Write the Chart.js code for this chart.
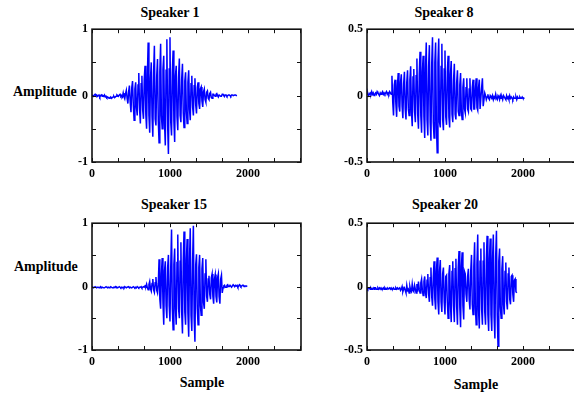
<!DOCTYPE html>
<html>
<head>
<meta charset="utf-8">
<script src="https://cdn.jsdelivr.net/npm/chart.js@4.4.0/dist/chart.umd.min.js"></script>
<style>
  html, body { margin: 0; padding: 0; background: #fff; overflow: hidden; }
  #page { position: relative; width: 574px; height: 398px; overflow: hidden;
          font-family: 'Liberation Serif', 'Times New Roman', serif; font-weight: bold; color: #000; }
  .panel { position: absolute; }
  .txt { position: absolute; font-size: 14px; line-height: 14px; white-space: nowrap; }
  .ctr { transform: translateX(-50%); }
</style>
</head>
<body>
<div id="page">
  <div class="txt ctr" style="left:170px;top:6px">Speaker 1</div>
  <div class="txt ctr" style="left:444px;top:6px">Speaker 8</div>
  <div class="txt ctr" style="left:174px;top:198px">Speaker 15</div>
  <div class="txt ctr" style="left:445px;top:198px">Speaker 20</div>
  <div class="txt" style="left:13px;top:85px">Amplitude</div>
  <div class="txt" style="left:14px;top:260px">Amplitude</div>
  <div class="txt ctr" style="left:202px;top:376px">Sample</div>
  <div class="txt ctr" style="left:476px;top:378px">Sample</div>

  <div class="panel" style="left:52px;top:18px;width:260px;height:170px"><canvas id="c1"></canvas></div>
  <div class="panel" style="left:327px;top:18px;width:260px;height:170px"><canvas id="c8"></canvas></div>
  <div class="panel" style="left:52px;top:212px;width:260px;height:164px"><canvas id="c15"></canvas></div>
  <div class="panel" style="left:327px;top:212px;width:260px;height:164px"><canvas id="c20"></canvas></div>
</div>

<script>
    // waveform values read every STEP samples off the plots
    const STEP = 10;
    const xTicks = [0, 333, 667, 1000, 1333, 1667, 2000, 2333, 2667];
    const xLabeled = [0, 1000, 2000];

    const spk1 = [
        0.01, 0, -0.01, 0.01, 0.02, 0, 0.01, -0.01, 0, 0.01,
        -0.02, 0, 0.01, -0.01, 0, -0.01, 0.01, -0.02, -0.01, -0.03,
        -0.02, -0.03, -0.04, -0.03, -0.02, -0.04, -0.03, -0.02, -0.01, -0.03,
        -0.02, -0.01, 0.01, 0, -0.01, 0.01, 0.02, -0.01, 0, -0.02,
        0.04, -0.02, -0.05, 0.03, 0.08, -0.04, -0.12, 0.06, 0.15, -0.1,
        -0.25, 0.12, 0.22, -0.15, -0.37, 0.1, 0.2, -0.18, -0.3, 0.16,
        0.34, -0.2, -0.42, 0.18, 0.3, -0.22, -0.35, 0.25, 0.45, -0.28,
        -0.5, 0.3, 0.8, -0.3, -0.56, 0.26, 0.5, -0.32, -0.62, 0.35,
        0.75, -0.35, -0.45, 0.3, 0.55, -0.38, -0.71, 0.36, 0.78, -0.3,
        -0.5, 0.4, 0.6, -0.42, -0.75, 0.38, 0.85, -0.45, -0.88, 0.4,
        0.88, -0.4, -0.6, 0.35, 0.68, -0.38, -0.7, 0.3, 0.45, -0.32,
        -0.52, 0.28, 0.56, -0.3, -0.4, 0.25, 0.48, -0.26, -0.48, 0.22,
        0.35, -0.24, -0.42, 0.2, 0.38, -0.2, -0.37, 0.18, 0.3, -0.17,
        -0.3, 0.15, 0.26, -0.14, -0.27, 0.12, 0.2, -0.12, -0.2, 0.1,
        0.13, -0.08, -0.17, 0.06, 0.1, -0.06, -0.1, 0.05, 0.07, -0.04,
        -0.06, 0.03, 0.05, -0.03, -0.04, 0.02, 0.02, 0, -0.01, 0.02,
        0.03, 0, -0.02, 0.01, 0.01, -0.01, -0.01, 0.02, 0.02, 0,
        -0.01, 0.01, 0.01, -0.01, 0, 0.01, 0.01, 0, -0.01, 0.01,
        0.01, 0, 0, 0.01, 0.01, 0, 0
    ];

    const spk8 = [
        0.01, 0.02, 0, 0.01, 0.02, 0.01, 0.03, 0.01, 0.02, 0,
        0.01, 0.02, 0.01, 0.03, 0.02, 0.01, 0, 0.02, 0.01, 0.02,
        0.03, 0.01, 0.02, 0.01, 0.02, 0.03, 0.01, 0.02, 0.01, 0.03,
        0.02, 0.01,
        0.15, -0.05, -0.15, 0.08, 0.12, -0.06, -0.16, 0.07, 0.17, -0.08,
        -0.12, 0.1, 0.16, -0.08, -0.17, 0.09, 0.18, -0.1,
        -0.18, 0.1, 0.19, -0.1, -0.15, 0.12, 0.22, -0.12, -0.23, 0.14,
        0.2, -0.12, -0.2, 0.15, 0.28, -0.14, -0.25, 0.16, 0.33, -0.15,
        -0.28, 0.18, 0.3, -0.16, -0.32, 0.2, 0.4, -0.18, -0.3, 0.22,
        0.38, -0.2, -0.34, 0.24, 0.44, -0.2, -0.32, 0.25, 0.4, -0.22,
        -0.43, 0.25, 0.43, -0.2, -0.24, 0.22, 0.39, -0.18, -0.26, 0.2,
        0.34, -0.16, -0.22, 0.18, 0.3, -0.16, -0.24, 0.16, 0.26, -0.14,
        -0.2, 0.12, 0.24, -0.14, -0.18, 0.1, 0.19, -0.12, -0.15, 0.08,
        0.17, -0.12, -0.18, 0.06, 0.13, -0.1, -0.13, 0.06, 0.13, -0.1,
        -0.12, 0.05, 0.13, -0.1, -0.11, 0.06, 0.12, -0.1, -0.1, 0.05,
        0.13, -0.09, -0.11, 0.06, 0.12, -0.1, -0.1, 0.06, 0.13, -0.08,
        -0.08, 0.02, 0, -0.03, -0.01, 0.01, -0.02, -0.03, 0, -0.01,
        -0.02, 0, -0.03, -0.01, -0.02, 0.01, -0.02, -0.03, 0, -0.01,
        -0.03, 0, -0.02, -0.01, -0.03, 0, -0.01, -0.02, -0.03, 0,
        -0.02, -0.01, -0.03, 0, -0.02, -0.01, -0.02, -0.03, -0.01, -0.02,
        -0.02, -0.01, -0.03, -0.01, -0.02, -0.02, -0.01, -0.02, -0.02, -0.01,
        -0.02, -0.02, -0.02
    ];

    const spk15 = [
        0, -0.01, -0.02, -0.01, 0, -0.01, -0.02, -0.01, -0.01, -0.02,
        -0.01, 0, -0.02, -0.01, -0.01, -0.02, -0.02, -0.01, 0, -0.01,
        -0.02, -0.01, -0.02, -0.01, 0, -0.01, -0.02, -0.02, -0.01, -0.01,
        0, -0.02, -0.01, -0.02, -0.01, 0, -0.01, -0.02, -0.01, -0.02,
        -0.01, -0.02, 0, -0.01, -0.02, -0.01, -0.01, 0, -0.02, -0.01,
        -0.01, -0.02, -0.01, 0, -0.01, -0.02, -0.01, -0.02, 0, -0.01,
        -0.02, -0.01, -0.01, 0, -0.02, -0.01, 0, -0.01, 0.01, 0,
        0.04, -0.02, -0.05, 0.03, 0.08, -0.03, -0.07, 0.05, 0.12, -0.05,
        -0.09, 0.06, 0.15, -0.06, -0.1, 0.05,
        0.43, -0.2, -0.35, 0.2, 0.45, -0.25, -0.6, 0.25, 0.4, -0.3,
        -0.5, 0.3, 0.5, -0.3, -0.55, 0.32, 0.9, -0.35, -0.68, 0.35,
        0.6, -0.35, -0.6, 0.38, 0.82, -0.35, -0.5, 0.4, 0.7, -0.4,
        -0.74, 0.4, 0.87, -0.4, -0.6, 0.42, 0.75, -0.42, -0.79, 0.4,
        0.92, -0.45, -0.7, 0.4, 0.96, -0.5, -0.87, 0.35, 0.51, -0.35,
        -0.6, 0.3, 0.5, -0.3, -0.45, 0.28, 0.45, -0.25, -0.35, 0.2,
        0.43, -0.15, -0.24, 0.12, 0.17, -0.12, -0.2, 0.14, 0.2, -0.15,
        -0.27, 0.12, 0.19, -0.15, -0.25, 0.14, 0.2, -0.16, -0.27, 0.12,
        0.18, -0.1,
        -0.02, 0.01, 0.02, -0.01, -0.01, 0.02, 0.03, 0, 0, 0.02,
        0.02, -0.01, 0.01, 0.03, 0.03, 0, 0.02, 0.01, 0.02, -0.01,
        0, 0.03, 0.02, 0, 0.01, 0.02, 0.02, 0, 0.01, 0.01,
        0.01, 0, 0
    ];

    const spk20 = [
        -0.01, -0.02, -0.01, -0.01, -0.02, -0.01, -0.02, -0.02, -0.01, -0.02,
        -0.01, -0.01, -0.02, -0.02, -0.01, -0.02, -0.01, -0.02, -0.01, -0.02,
        -0.02, -0.01, -0.02, -0.01, -0.02, -0.02, -0.01, -0.02, -0.02, -0.01,
        -0.02, -0.01, -0.02, -0.02, -0.01, -0.02, -0.02, -0.01, -0.02, -0.01,
        -0.02, -0.02,
        -0.01, -0.03, -0.02, 0, -0.04, -0.02, -0.01, -0.03, -0.05, 0.01,
        -0.03, -0.02, -0.05, 0, -0.03, -0.04, 0.02, -0.03, -0.04, 0.01,
        -0.02, -0.05, 0.02, -0.04,
        0.04, -0.02, -0.05, 0.03, 0.06, -0.03, -0.07, 0.04, 0.08, -0.05,
        -0.09, 0.05, 0.1, -0.06, -0.12, 0.07, 0.15, -0.08, -0.15, 0.08,
        0.2, -0.1, -0.18, 0.12, 0.23, -0.12, -0.22, 0.12, 0.21, -0.12,
        -0.2, 0.1, 0.15, -0.12, -0.22, 0.08, 0.09, -0.12, -0.25, 0.1,
        0.17, -0.14, -0.28, 0.12, 0.2, -0.15, -0.28, 0.14, 0.22, -0.16,
        -0.3, 0.15, 0.28, -0.16, -0.32, 0.16, 0.27, -0.15, -0.26, 0.12,
        0.1, -0.06, -0.12, 0.08, 0.14, -0.1, -0.18, 0.12, 0.25, -0.14,
        -0.22, 0.16, 0.35, -0.16, -0.3, 0.18, 0.41, -0.18, -0.33, 0.2,
        0.3, -0.18, -0.3, 0.2, 0.35, -0.2, -0.3, 0.2, 0.4, -0.22,
        -0.35, 0.22, 0.38, -0.22, -0.35, 0.22, 0.41, -0.24, -0.41, 0.24,
        0.44, -0.22, -0.47, 0.2, 0.3, -0.16, -0.25, 0.14, 0.24, -0.14,
        -0.22, 0.12, 0.19, -0.12, -0.18, 0.1, 0.15, -0.1, -0.14, 0.08,
        0.09, -0.06, -0.12, 0.05, 0.06, -0.04, -0.05
    ];

    const yTicksWide = [-1, -0.5, 0, 0.5, 1];
    const yLabeledWide = [-1, 0, 1];
    const yTicksNarrow = [-0.5, -0.25, 0, 0.25, 0.5];
    const yLabeledNarrow = [-0.5, 0, 0.5];

    const tickFont = { family: "'Liberation Serif', 'Times New Roman', serif", size: 12, weight: 'bold' };

    // frame round the plot with short inward tick marks on every side
    const frameTicks = {
        id: 'frameTicks',
        afterDraw(chart) {
            const { ctx, chartArea: a, scales: { x, y } } = chart;
            ctx.save();
            ctx.strokeStyle = '#111';
            ctx.lineWidth = 1;
            ctx.beginPath();
            x.ticks.forEach(t => {
                const px = Math.round(x.getPixelForValue(t.value)) + 0.5;
                ctx.moveTo(px, a.bottom); ctx.lineTo(px, a.bottom - 4);
                ctx.moveTo(px, a.top); ctx.lineTo(px, a.top + 4);
            });
            y.ticks.forEach(t => {
                const py = Math.round(y.getPixelForValue(t.value)) + 0.5;
                ctx.moveTo(a.left, py); ctx.lineTo(a.left + 4, py);
                ctx.moveTo(a.right, py); ctx.lineTo(a.right - 4, py);
            });
            ctx.stroke();
            ctx.lineWidth = 1.6;
            ctx.strokeRect(a.left, a.top, a.right - a.left, a.bottom - a.top);
            ctx.restore();
        }
    };

    function makePanel(id, values, yLim, yTicks, yLabeled) {
        return new Chart(document.getElementById(id), {
            type: 'line',
            data: {
                datasets: [{
                    data: values.map((v, i) => ({ x: i * STEP, y: v })),
                    borderColor: '#0000ff',
                    borderWidth: 1.5,
                    pointRadius: 0,
                    tension: 0
                }]
            },
            options: {
                responsive: true,
                maintainAspectRatio: false,
                animation: false,
                layout: { padding: { top: 10, right: 11, left: 0, bottom: 0 } },
                plugins: { legend: { display: false }, tooltip: { enabled: false }, title: { display: false } },
                scales: {
                    x: {
                        type: 'linear', min: 0, max: 2680,
                        grid: { display: false, drawTicks: false },
                        border: { display: false },
                        afterBuildTicks: s => { s.ticks = xTicks.map(v => ({ value: v })); },
                        afterFit: s => { s.height = 26; },
                        ticks: {
                            autoSkip: false, maxRotation: 0, minRotation: 0, padding: 5,
                            color: '#000', font: tickFont,
                            callback: v => xLabeled.includes(v) ? String(v) : ''
                        }
                    },
                    y: {
                        min: -yLim, max: yLim,
                        grid: { display: false, drawTicks: false },
                        border: { display: false },
                        afterBuildTicks: s => { s.ticks = yTicks.map(v => ({ value: v })); },
                        afterFit: s => { s.width = 40; },
                        ticks: {
                            autoSkip: false, padding: 4,
                            color: '#000', font: tickFont,
                            callback: v => yLabeled.includes(v) ? String(v) : ''
                        }
                    }
                }
            },
            plugins: [frameTicks]
        });
    }

    makePanel('c1', spk1, 1, yTicksWide, yLabeledWide);
    makePanel('c8', spk8, 0.5, yTicksNarrow, yLabeledNarrow);
    makePanel('c15', spk15, 1, yTicksWide, yLabeledWide);
    makePanel('c20', spk20, 0.5, yTicksNarrow, yLabeledNarrow);
</script>
</body>
</html>
